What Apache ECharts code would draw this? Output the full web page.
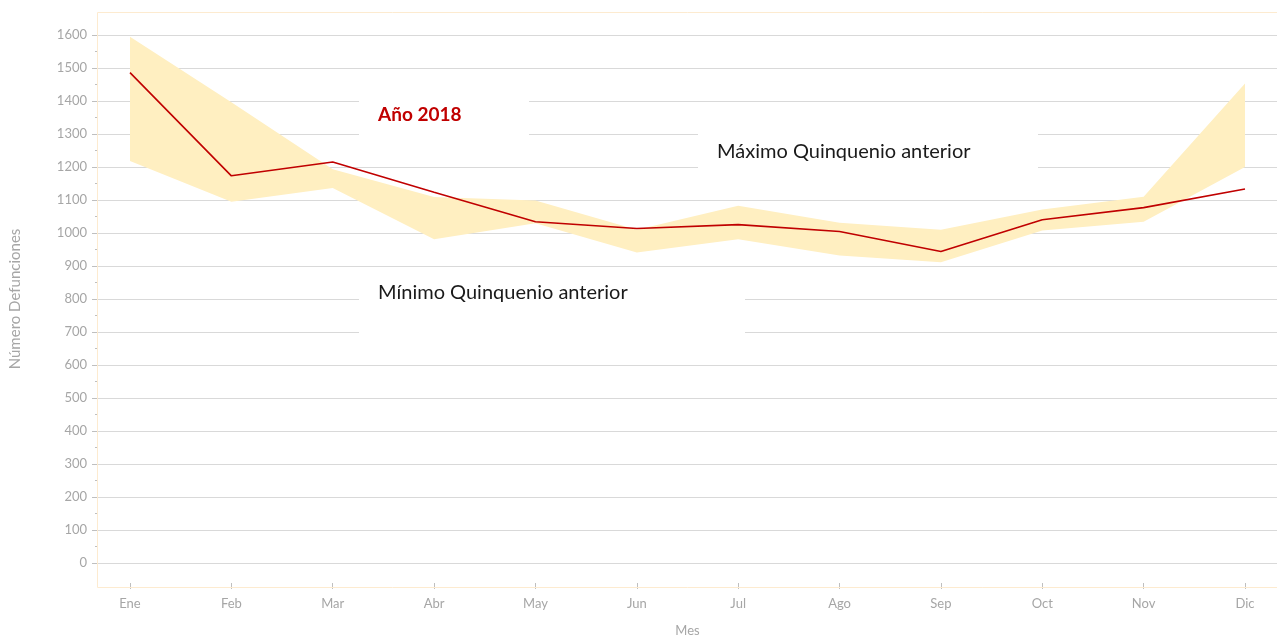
<!DOCTYPE html>
<html>
<head>
<meta charset="utf-8">
<script src="https://cdn.jsdelivr.net/npm/echarts@6/dist/echarts.min.js"></script>
<style>
  html, body { margin: 0; padding: 0; background: #fff; }
  #chart { width: 1277px; height: 642px; }
</style>
</head>
<body>
<div id="chart"></div>
<script>
const months = ["Ene", "Feb", "Mar", "Abr", "May", "Jun", "Jul", "Ago", "Sep", "Oct", "Nov", "Dic"];
const year2018 = [1485, 1170, 1212, 1120, 1030, 1009, 1021, 1000, 939, 1036, 1073, 1130];
const maxQuinq = [1595, 1395, 1190, 1105, 1095, 1005, 1079, 1027, 1005, 1067, 1106, 1452];
const minQuinq = [1215, 1091, 1133, 976, 1025, 936, 976, 927, 906, 1003, 1030, 1197];
const yTicks = { min: 0, max: 1600, step: 100 };

const axisGray = "#a6a6a6";
const frameColor = "#fdebd0";
const fontFam = "Lato, 'Noto Sans', sans-serif";

// band = min + (max - min), stacked
const bandSpan = maxQuinq.map((v, i) => v - minQuinq[i]);

const chart = echarts.init(document.getElementById("chart"));

// white text box like the excel ones, hides the grid lines behind it
function labelBox(x, y, w, h, text, style) {
  return [
    { type: "rect", z: 100, zlevel: 1, shape: { x: x, y: y, width: w, height: h }, style: { fill: "#fff" } },
    { type: "text", z: 101, zlevel: 1, x: x + 19, y: y + 10, style: Object.assign({ text: text, fontFamily: fontFam }, style) }
  ];
}

chart.setOption({
  animation: false,
  grid: [
    { left: 97, right: -10, top: 35, bottom: 79 },
    { left: 130, right: 32, top: 35, bottom: 79 }
  ],
  xAxis: [
    { gridIndex: 0, type: "value", show: false, min: 0, max: 1 },
    {
      gridIndex: 1, type: "category", data: months, boundaryGap: false, offset: 24,
      axisLine: { show: false, onZero: false },
      axisTick: { show: true, length: 6, lineStyle: { color: "#bfbfbf" } },
      axisLabel: { color: axisGray, fontSize: 13, fontFamily: fontFam, margin: 14 },
      name: "Mes", nameLocation: "middle", nameGap: 41,
      nameTextStyle: { color: axisGray, fontSize: 13, fontFamily: fontFam }
    }
  ],
  yAxis: [
    {
      gridIndex: 0, type: "value", min: yTicks.min, max: yTicks.max, interval: yTicks.step,
      axisLine: { show: false },
      axisTick: { show: true, length: 5, lineStyle: { color: "#bfbfbf" } },
      minorTick: { show: true, splitNumber: 2, length: 2, lineStyle: { color: "#bfbfbf" } },
      splitLine: { show: true, lineStyle: { color: "#d9d9d9", width: 1 } },
      axisLabel: { color: axisGray, fontSize: 13, fontFamily: fontFam, margin: 10, formatter: (v) => String(v) },
      name: "Número Defunciones", nameLocation: "middle", nameGap: 74,
      nameTextStyle: { color: axisGray, fontSize: 15, fontFamily: fontFam }
    },
    { gridIndex: 1, type: "value", min: yTicks.min, max: yTicks.max, interval: yTicks.step, show: false }
  ],
  series: [
    {
      name: "Mínimo", type: "line", xAxisIndex: 1, yAxisIndex: 1, stack: "band",
      data: minQuinq, symbol: "none", lineStyle: { opacity: 0 }, silent: true
    },
    {
      name: "Máximo", type: "line", xAxisIndex: 1, yAxisIndex: 1, stack: "band",
      data: bandSpan, symbol: "none", lineStyle: { opacity: 0 },
      areaStyle: { color: "#ffefc1", opacity: 1 }, silent: true
    },
    {
      name: "Año 2018", type: "line", xAxisIndex: 1, yAxisIndex: 1,
      data: year2018, symbol: "none", lineStyle: { color: "#c00000", width: 1.6 }, z: 5
    }
  ],
  graphic: [
    {
      type: "rect", z: 90, shape: { x: 97.5, y: 12.5, width: 1200, height: 575 },
      style: { fill: null, stroke: frameColor, lineWidth: 1 }
    },
    ...labelBox(359, 95, 170, 56, "Año 2018", { fill: "#c00000", fontSize: 19, fontWeight: "bold" }),
    ...labelBox(698, 132, 340, 52, "Máximo Quinquenio anterior", { fill: "#1a1a1a", fontSize: 20 }),
    ...labelBox(359, 273, 386, 68, "Mínimo Quinquenio anterior", { fill: "#1a1a1a", fontSize: 20 })
  ]
});
</script>
</body>
</html>
